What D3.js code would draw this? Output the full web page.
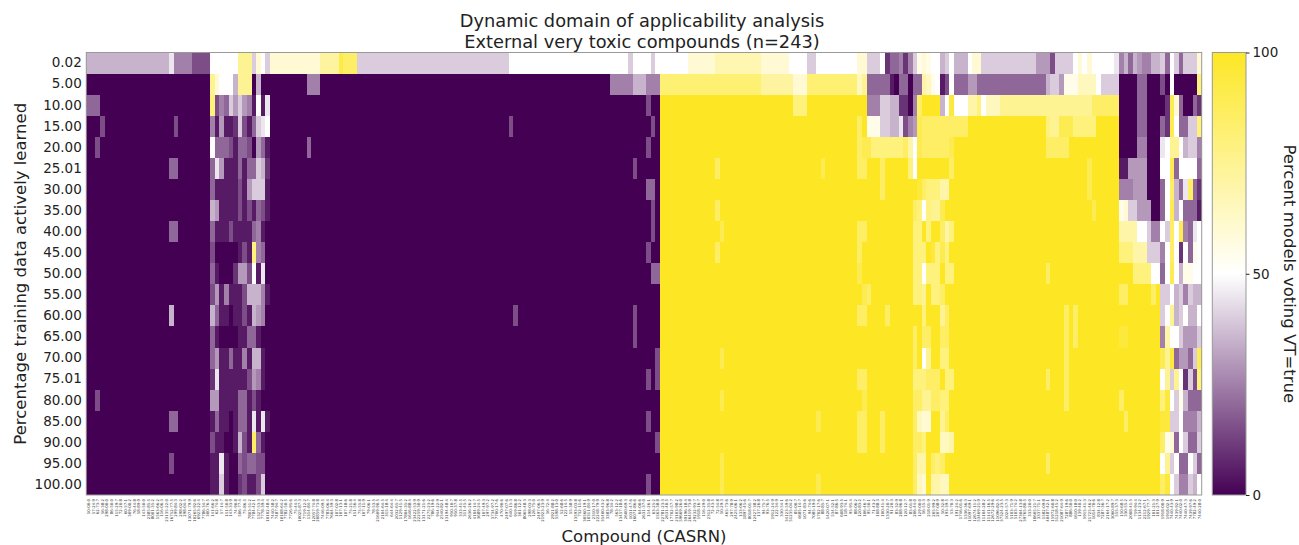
<!DOCTYPE html>
<html>
<head>
<meta charset="utf-8">
<script src="https://cdn.jsdelivr.net/npm/d3@7"></script>
<style>
  html, body { margin: 0; padding: 0; background: #fff; }
  svg { display: block; font-family: "DejaVu Sans", sans-serif; }
</style>
</head>
<body>
<svg id="chart" width="1299" height="545"></svg>
<script>
// ---------- DATA ----------
const titleLines = ["Dynamic domain of applicability analysis", "External very toxic compounds (n=243)"];
const xAxisLabel = "Compound (CASRN)";
const yAxisLabel = "Percentage training data actively learned";
const colorbarLabel = "Percent models voting VT=true";

// y categories: percentage of training data actively learned
const rowLabels = ["0.02","5.00","10.00","15.00","20.00","25.01","30.00","35.00","40.00","45.00",
  "50.00","55.00","60.00","65.00","70.00","75.01","80.00","85.00","90.00","95.00","100.00"];

// x categories: compounds (CASRN), 243 of them
const compoundLabels = (
 "50-00-0 57-24-9 62-73-7 56-38-2 298-00-0 86-50-0 115-29-7 72-20-8 60-57-1 309-00-2 " +
 "76-44-8 58-89-9 143-50-0 2385-85-5 8001-35-2 1563-66-2 116-06-3 23135-22-0 16752-77-5 299-84-3 " +
 "298-02-2 298-04-4 13071-79-9 10265-92-6 6923-22-4 7786-34-7 300-76-5 141-66-2 62-74-8 57-14-7 " +
 "151-50-8 143-33-9 74-90-8 506-77-4 75-86-5 7803-51-2 7784-42-1 1327-53-3 7778-39-4 10102-48-4 " +
 "7440-38-2 7487-94-7 10108-64-2 7782-50-5 7726-95-6 75-44-5 10025-87-3 7719-12-2 1314-84-7 12057-74-8 " +
 "20859-73-8 7446-09-5 7783-06-4 7664-39-3 107-02-8 107-13-1 107-18-6 75-21-8 151-56-4 75-55-8 " +
 "107-11-9 79-06-1 78-53-5 21609-90-5 2104-64-5 315-18-4 644-64-4 2032-65-7 1129-41-5 17804-35-2 " +
 "1646-88-4 23422-53-9 22259-30-9 13171-21-6 2275-23-2 786-19-6 944-22-9 2540-82-1 13194-48-4 950-10-7 " +
 "950-37-8 333-41-5 311-45-5 2636-26-2 4104-14-7 3689-24-5 107-49-3 297-97-2 3734-97-2 7700-17-6 " +
 "470-90-6 2497-07-6 640-15-3 919-86-8 301-12-2 8065-48-3 298-03-3 126-75-0 2497-06-5 21923-23-9 " +
 "56-72-4 2921-88-2 5598-13-0 52-68-6 122-14-5 55-38-9 13593-03-8 732-11-6 30560-19-1 10311-84-9 " +
 "2310-17-0 22248-79-9 35400-43-2 3383-96-8 78-34-2 563-12-2 13457-18-6 2600-69-3 1031-47-6 16071-86-6 " +
 "64-00-6 2631-37-0 114-26-1 63-25-2 1563-38-8 22781-23-3 2631-40-5 17702-57-7 23103-98-2 59669-26-0 " +
 "39196-18-4 26419-73-8 29232-93-7 1918-16-7 116-29-0 2312-35-8 72-43-5 72-54-8 50-29-3 465-73-6 " +
 "297-78-9 2425-06-1 133-06-2 1897-45-6 8018-01-7 12427-38-2 137-26-8 94-75-7 93-76-5 1912-24-9 " +
 "122-34-9 330-54-1 34123-59-6 51235-04-2 85-00-7 4685-14-7 1071-83-6 94-74-6 7085-19-0 1702-17-6 " +
 "88-85-7 1420-07-1 534-52-1 87-86-5 608-93-5 118-74-1 95-95-4 88-06-2 120-83-2 106-46-7 " +
 "95-50-1 71-43-2 108-88-3 100-41-4 1330-20-7 91-20-3 83-32-9 208-96-8 120-12-7 85-01-8 " +
 "206-44-0 129-00-0 56-55-3 218-01-9 205-99-2 207-08-9 50-32-8 193-39-5 53-70-3 191-24-2 " +
 "1746-01-6 1336-36-3 11097-69-1 12674-11-2 53469-21-9 11104-28-2 11141-16-5 12672-29-6 11096-82-5 37324-23-5 " +
 "1024-57-3 5103-71-9 5103-74-2 27304-13-8 39765-80-5 333-20-0 10605-21-7 3337-71-1 1582-09-8 40487-42-1 " +
 "15972-60-8 51218-45-2 21087-64-9 7287-19-6 886-50-0 1610-18-0 139-40-2 5915-41-3 21725-46-2 1014-70-6 " +
 "834-12-8 7287-36-7 2164-17-2 3060-89-7 555-37-3 150-68-5 330-55-2 2008-41-5 759-94-4 1134-23-2 " +
 "2212-67-1 1929-77-7 101-21-3 101-27-9 1918-00-9 1918-02-1 7440-43-9 7439-92-1 7440-02-0 7440-47-3 " +
 "7439-97-6 7782-49-2 7440-28-0").split(" ");

// cell values per row, as runs: value, count, value, count ... (percent models voting VT=true)
const row_0_02 = [35,18,45,1,25,4,15,4, 50,6,75,3,40,1,60,1,50,1,40,1,60,1,
  60,10,72,4,92,1,85,3,40,33,50,26,40,1,50,4,40,1,50,1,
  50,6,60,6,68,10,60,6,50,4,40,2,50,9,60,2,
  40,3,50,1,10,1,20,2,25,1,10,1,25,1,40,1,55,1,60,1,55,1,50,2,35,1,40,1,50,1,
  35,3,50,1,60,2,40,12,30,3,
  15,1,40,4,50,1,60,1,50,1,60,1,50,5,45,1,25,1,35,1,20,1,35,1,30,1,25,1,25,1,35,2,40,1,20,1,50,1,40,1,20,1,40,2,40,1,60,1];
const row_5_00 = [0,27, 75,1,60,1,50,3,35,1,75,3,0,1,35,1,0,3,
  0,7,25,3,0,63,25,5,35,3,25,3,
  82,22,72,7,60,3,82,11,65,1,75,1,
  20,5,5,1,0,1,20,2,0,1,20,2,70,1,65,1,55,1,50,1,5,1,15,1,50,1,
  20,3,30,2,20,15,35,1,
  40,2,30,1,55,3,65,4,50,1,40,3,40,1,0,4,20,2,0,3,15,1,0,1,50,1,0,1,0,4,80,1];
const row_10_00 = [20,3,0,24, 80,1,15,1,25,1,20,1,40,1,30,1,40,1,30,1,25,1,5,1,50,1,5,1,45,1,0,1,
  0,81,15,1,0,2,
  100,29,80,3,100,13,
  25,3,40,2,35,2,10,2,0,1,25,1,85,1,100,4,35,1,50,1,95,1,
  50,3,70,2,80,1,50,1,65,3,75,11,
  75,9,85,6,0,4,20,2,0,4,10,1,90,1,60,1,20,1,0,2,20,1,10,1];
const row_15_00 = [0,3,15,1,0,15,15,1,0,7, 25,1,5,1,30,1,5,1,5,1,10,1,40,1,15,1,5,1,20,1,40,1,45,1,50,1,0,1,
  0,51,15,1,0,30,15,1,0,1,
  100,43,85,1,100,1,
  55,3,40,2,35,2,45,1,15,1,25,1,30,1,90,1,85,7,
  85,3,100,17,80,1,
  75,2,90,3,80,3,80,2,100,5,0,4,20,2,0,3,20,1,10,1,90,1,50,1,20,1,20,1,40,2,80,1];
const row_20_00 = [0,2,15,1,0,24, 50,1,20,1,20,1,20,1,15,1,5,1,20,1,20,1,15,1,0,1,30,1,20,1,5,1,0,1,
  0,7,20,1,0,73,15,1,0,2,
  100,43,85,1,90,1,
  90,1,80,7,85,1,70,1,50,1,90,1,85,6,90,1,
  100,20,85,1,
  85,4,100,11,0,4,25,2,0,3,45,1,50,1,75,1,75,1,50,1,35,1,40,2,25,1];
const row_25_01 = [0,18,20,2,0,7, 20,1,45,1,30,1,5,1,5,1,5,1,20,1,5,1,20,1,20,1,40,1,35,1,10,1,0,1,
  0,78,15,1,0,5,
  100,12,85,1,100,22,90,1,100,7,85,2,
  100,3,85,1,100,5,80,1,50,1,100,7,85,1,
  100,21,
  100,8,90,1,100,6,5,2,30,2,30,2,0,3,50,1,50,1,90,1,20,1,50,3,50,1,20,1];
const row_30_00 = [0,27, 20,1,5,5,15,1,5,1,30,1,40,3,5,1,0,1,
  0,81,20,2,0,1,
  100,45,
  100,3,85,1,100,7,95,1,85,1,80,3,70,2,100,1,
  100,21,
  100,8,90,1,100,6,25,3,30,1,30,2,0,3,20,1,50,1,85,1,35,1,20,1,45,1,85,1,20,1,10,1];
const row_35_00 = [0,27, 35,1,30,1,5,4,15,1,5,1,15,1,5,1,20,1,15,1,5,1,0,1,
  0,82,15,1,0,1,
  100,12,85,1,100,32,
  100,10,85,1,80,1,50,1,80,1,75,2,90,1,100,2,
  100,21,
  100,9,90,1,100,5,55,1,60,1,40,2,30,3,0,2,20,1,50,1,90,1,35,1,50,1,20,2,20,1,5,1];
const row_40_00 = [0,18,20,2,0,7, 20,1,5,3,15,1,5,4,20,1,25,1,5,1,0,2,
  0,82,15,1,0,1,
  100,13,90,1,100,29,85,2,
  100,10,80,2,100,1,80,1,100,2,85,1,70,1,80,1,
  100,21,
  100,15,70,4,50,2,40,1,25,2,50,1,40,1,85,1,50,1,90,1,25,1,20,1,45,1,50,1];
const row_45_00 = [0,27, 15,1,0,5,5,1,15,1,5,1,80,1,25,1,20,1,0,2,
  0,81,15,1,0,2,
  100,12,85,1,100,30,85,1,100,1,
  100,10,80,3,100,1,95,1,80,1,90,1,80,1,100,1,
  100,21,
  100,15,80,3,70,3,40,3,25,1,50,1,85,1,50,1,10,1,50,1,20,1,55,1,50,1];
const row_50_00 = [0,27, 20,1,5,1,0,3,10,1,30,2,15,1,50,1,5,1,45,1,0,2,
  0,82,20,2,
  100,43,90,1,100,1,
  100,10,80,2,50,1,80,3,100,1,80,2,
  100,20,85,1,
  100,18,80,4,50,2,20,1,50,1,90,1,50,1,35,1,55,2,50,1,50,1];
const row_55_00 = [0,27, 15,1,30,1,5,1,25,1,5,3,15,1,35,3,25,1,5,1,0,1,
  0,84,
  100,44,90,1,
  85,1,100,9,80,2,75,1,100,1,80,2,85,1,100,2,
  100,21,
  100,15,85,2,100,5,85,1,100,1,40,1,40,1,50,1,35,1,40,1,25,1,40,1,35,2];
const row_60_00 = [0,18,35,1,0,8, 35,1,20,1,5,2,0,1,5,2,15,1,5,1,35,1,30,1,25,1,0,2,
  0,52,15,1,0,25,15,1,0,5,
  100,43,85,2,
  100,4,85,1,100,7,80,1,100,3,75,1,85,1,100,1,
  100,21,
  100,3,85,1,100,1,85,1,100,18,40,1,50,1,75,1,35,1,40,1,50,1,35,2,50,1];
const row_65_00 = [0,27, 20,1,5,1,0,4,5,2,20,2,5,1,0,3,
  0,78,15,1,0,5,
  100,45,
  100,10,85,1,100,1,85,2,100,2,85,2,100,1,
  100,21,
  100,3,85,1,100,1,85,1,100,9,95,2,100,7,25,1,70,1,50,2,40,1,30,3,40,1];
const row_70_00 = [0,27, 20,1,30,1,5,2,20,1,5,2,25,1,5,1,35,2,5,1,0,2,
  0,83,15,1,
  100,13,90,1,100,31,
  100,10,85,1,100,1,50,1,75,1,100,2,80,2,100,1,
  100,21,
  100,3,85,1,100,20,90,1,75,1,95,1,20,1,30,2,20,1,40,1,90,1];
const row_75_01 = [0,27, 10,1,45,1,5,6,15,1,30,1,25,1,5,1,0,2,
  0,81,15,1,0,1,15,1,
  100,43,85,2,
  100,10,80,3,85,3,100,1,80,2,
  100,20,85,1,
  100,3,85,1,100,20,50,1,75,1,40,1,75,1,50,1,10,1,40,1,15,1,80,1];
const row_80_00 = [0,2,15,1,0,24, 30,2,5,4,20,2,5,1,15,1,5,1,0,3,
  0,84,
  100,13,90,1,100,30,90,1,
  100,10,85,2,75,2,85,2,80,2,100,1,
  100,21,
  100,3,85,1,100,11,85,1,100,8,80,1,95,1,50,1,40,1,55,1,35,1,20,3];
const row_85_00 = [0,18,20,2,0,7, 5,1,20,1,5,2,0,1,5,1,20,2,5,1,45,1,5,1,45,1,5,1,0,1,
  0,81,15,1,0,2,
  100,34,90,1,100,8,85,2,
  100,3,85,1,100,6,85,1,65,1,60,2,100,2,75,1,85,1,100,1,
  100,21,
  100,16,85,1,100,7,95,2,40,2,50,1,25,3,35,1];
const row_90_00 = [0,27, 15,1,5,2,0,2,5,1,35,1,15,1,5,1,85,1,20,1,5,1,0,2,
  0,83,15,1,
  100,43,85,2,
  100,3,85,1,100,6,85,2,80,1,100,3,65,2,70,1,
  100,21,
  100,24,85,1,55,1,60,1,20,1,50,1,40,1,20,2,40,1];
const row_95_00 = [0,18,15,1,0,8, 5,2,45,1,5,1,0,2,20,1,15,1,20,2,15,2,0,2,
  0,84,
  100,13,90,1,100,31,
  100,10,85,1,70,2,100,1,85,1,80,1,85,1,100,2,
  100,20,85,1,
  100,24,50,1,75,1,40,1,50,1,20,2,50,1,40,1,20,1];
const row_100_00 = [0,27, 5,2,40,1,5,1,0,2,10,1,15,1,5,2,15,1,40,1,0,2,
  0,81,15,1,0,2,
  100,13,90,1,100,20,90,1,100,10,
  100,10,85,1,65,1,60,1,100,1,70,2,65,2,100,1,
  100,21,
  100,24,85,1,95,1,50,1,40,1,25,2,40,1,35,1,50,1];

const rowRuns = [row_0_02,row_5_00,row_10_00,row_15_00,row_20_00,row_25_01,row_30_00,row_35_00,
  row_40_00,row_45_00,row_50_00,row_55_00,row_60_00,row_65_00,row_70_00,row_75_01,row_80_00,
  row_85_00,row_90_00,row_95_00,row_100_00];

const colorbarTicks = [0, 50, 100];

// ---------- BUILD CELLS ----------
const nCols = 243;
const cells = [];
const problems = [];
rowRuns.forEach((runs, r) => {
  const vals = [];
  for (let k = 0; k < runs.length; k += 2) {
    for (let n = 0; n < runs[k + 1]; n++) vals.push(runs[k]);
  }
  if (vals.length !== nCols) problems.push(rowLabels[r] + ":" + vals.length);
  for (let c = 0; c < nCols; c++) {
    cells.push({ row: rowLabels[r], col: c, value: c < vals.length ? vals[c] : 0 });
  }
});

// ---------- LAYOUT ----------
const svg = d3.select("#chart");
const plot = { left: 86.3, right: 1201.7, top: 52.5, bottom: 495 };
const cbar = { left: 1212.3, right: 1246, top: 52.5, bottom: 495 };

const x = d3.scaleBand().domain(d3.range(nCols)).range([plot.left, plot.right]).padding(0);
const y = d3.scaleBand().domain(rowLabels).range([plot.top, plot.bottom]).padding(0);
const color = d3.scaleLinear().domain([0, 50, 100])
  .range(["#440154", "#ffffff", "#fde725"]).interpolate(d3.interpolateRgb);

// cells
svg.append("g").attr("shape-rendering", "crispEdges")
  .selectAll("rect").data(cells).join("rect")
  .attr("x", d => x(d.col))
  .attr("y", d => y(d.row))
  .attr("width", x.bandwidth() + 0.4)
  .attr("height", y.bandwidth() + 0.4)
  .attr("fill", d => color(d.value));

// frame
svg.append("rect")
  .attr("x", plot.left).attr("y", plot.top)
  .attr("width", plot.right - plot.left).attr("height", plot.bottom - plot.top)
  .attr("fill", "none").attr("stroke", "#999").attr("stroke-width", 1);

// y axis
const yAxis = svg.append("g").attr("transform", `translate(${plot.left},0)`)
  .call(d3.axisLeft(y).tickSize(0).tickPadding(4.5));
yAxis.select(".domain").remove();
yAxis.selectAll("text").attr("font-size", "13.5px").attr("fill", "#222")
  .attr("font-family", "DejaVu Sans, sans-serif");

// x axis
const xAxis = svg.append("g").attr("transform", `translate(0,${plot.bottom})`)
  .call(d3.axisBottom(x).tickSize(0).tickPadding(0).tickFormat(i => compoundLabels[i] || ""));
xAxis.select(".domain").remove();
xAxis.selectAll("text")
  .attr("font-size", "3.9px").attr("fill", "#444")
  .attr("font-family", "DejaVu Sans, sans-serif")
  .attr("text-anchor", "end")
  .attr("dy", "0.35em")
  .attr("transform", "translate(0,4) rotate(-90)")
  .attr("y", 0).attr("x", 0);

// titles
svg.append("text").attr("x", 642).attr("y", 27).attr("text-anchor", "middle")
  .attr("font-size", "17.8px").attr("fill", "#222").text(titleLines[0]);
svg.append("text").attr("x", 642).attr("y", 47.5).attr("text-anchor", "middle")
  .attr("font-size", "17.8px").attr("fill", "#222").text(titleLines[1]);

// axis labels
svg.append("text").attr("x", (plot.left + plot.right) / 2).attr("y", 542)
  .attr("text-anchor", "middle").attr("font-size", "16.5px").attr("fill", "#222").text(xAxisLabel);
svg.append("text")
  .attr("transform", `translate(25.5,${(plot.top + plot.bottom) / 2}) rotate(-90)`)
  .attr("text-anchor", "middle").attr("font-size", "16.5px").attr("fill", "#222").text(yAxisLabel);

// colorbar
const defs = svg.append("defs");
const grad = defs.append("linearGradient").attr("id", "cbgrad")
  .attr("x1", "0").attr("y1", "1").attr("x2", "0").attr("y2", "0");
d3.range(0, 101, 5).forEach(v => {
  grad.append("stop").attr("offset", (v / 100)).attr("stop-color", color(v));
});
const cy = d3.scaleLinear().domain([0, 100]).range([cbar.bottom, cbar.top]);
svg.append("rect")
  .attr("x", cbar.left).attr("y", cbar.top)
  .attr("width", cbar.right - cbar.left).attr("height", cbar.bottom - cbar.top)
  .attr("fill", "url(#cbgrad)").attr("stroke", "#999").attr("stroke-width", 1);
const cAxis = svg.append("g").attr("transform", `translate(${cbar.right},0)`)
  .call(d3.axisRight(cy).tickValues(colorbarTicks).tickSize(3.5).tickPadding(3));
cAxis.select(".domain").remove();
cAxis.selectAll("line").attr("stroke", "#222");
cAxis.selectAll("text").attr("font-size", "13.5px").attr("fill", "#222")
  .attr("font-family", "DejaVu Sans, sans-serif");
svg.append("text")
  .attr("transform", `translate(1284,${(cbar.top + cbar.bottom) / 2}) rotate(90)`)
  .attr("text-anchor", "middle").attr("font-size", "16.5px").attr("fill", "#222").text(colorbarLabel);

if (problems.length) {
  svg.append("text").attr("x", 5).attr("y", 12).attr("fill", "red").attr("font-size", "10px")
    .text("LEN " + problems.join(" "));
}
</script>
</body>
</html>
